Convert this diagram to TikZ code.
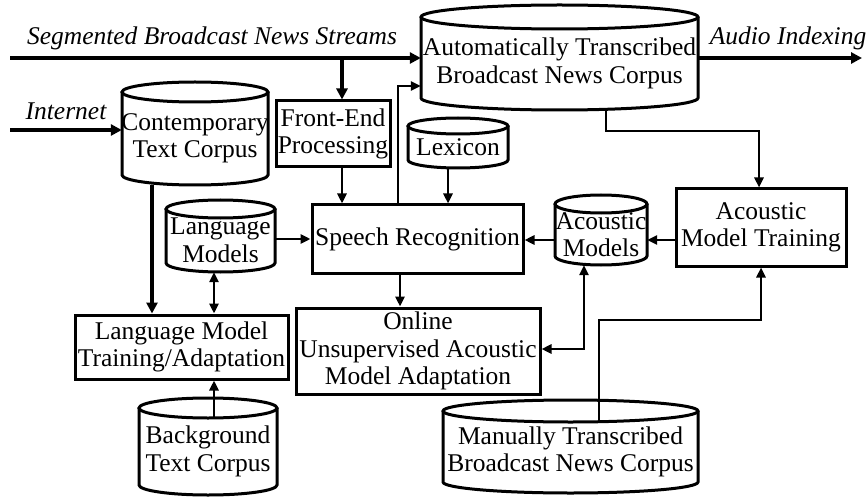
\documentclass[tikz,border=0pt]{standalone}
\usepackage{fontspec}
\setmainfont{Liberation Serif}
\usetikzlibrary{arrows.meta}
\newcommand\mfnt{\fontsize{25.5}{27.5}\selectfont}
\tikzset{
  txt/.style={font=\mfnt, align=center, inner sep=0pt},
  lbl/.style={font=\mfnt\itshape, inner sep=0pt, anchor=base},
  box/.style={draw, line width=3pt, font=\mfnt, align=center, inner sep=0pt},
  cylline/.style={line width=3pt},
  arr/.style={line width=2.5pt, -{Triangle[length=10pt,width=9pt]}},
  darr/.style={line width=2.5pt, {Triangle[length=10pt,width=9pt]}-{Triangle[length=10pt,width=9pt]}},
  tarr/.style={line width=4.5pt, -{Triangle[length=11pt,width=11pt]}},
}
% name, x1, y1(top), x2, y2(bottom), ry, text
\newcommand\cylnode[7]{%
  \pgfmathsetmacro\cylcx{(#2+#4)/2}%
  \pgfmathsetmacro\cylrx{(#4-#2)/2}%
  \pgfmathsetmacro\cylw{#4-#2}%
  \pgfmathsetmacro\cylh{#5-#3}%
  \pgfmathsetmacro\cylcy{(#3+#5)/2}%
  \pgfmathsetmacro\cylty{(#3+#5)/2+#6/2}%
  \node[shape=rectangle, inner sep=0pt, minimum width=\cylw pt, minimum height=\cylh pt] (#1) at (\cylcx,\cylcy) {};
  \node[txt] (#1-t) at (\cylcx,\cylty) {#7};
  \draw[cylline] (\cylcx,#3+#6) ellipse [x radius=\cylrx pt, y radius=#6 pt];
  \draw[cylline] (#2,#3+#6) -- (#2,#5-#6) arc[start angle=180, end angle=360, x radius=\cylrx pt, y radius=#6 pt] -- (#4,#3+#6);
}
\begin{document}
\begin{tikzpicture}[x=1pt,y=-1pt]
\useasboundingbox (0,0) rectangle (867,497);
% cylinders
\cylnode{auto}{421}{5}{698}{110}{12}{Automatically Transcribed\\Broadcast News Corpus}
\cylnode{ctc}{122}{82}{268}{185}{10}{Contemporary\\Text Corpus}
\cylnode{lex}{408}{118}{508}{168}{8}{Lexicon}
\cylnode{lm}{166}{200}{275}{272}{9}{Language\\Models}
\cylnode{am}{555}{195}{647}{265}{9}{Acoustic\\Models}
\cylnode{btc}{139}{398}{277}{495}{10}{Background\\Text Corpus}
\cylnode{mtc}{443}{400}{698}{493}{11}{Manually Transcribed\\Broadcast News Corpus}
% boxes
\node[box, minimum width=114pt, minimum height=66pt] (fe) at (333,134) {Front-End\\Processing};
\node[box, minimum width=211pt, minimum height=68pt] (sr) at (417.5,239) {Speech Recognition};
\node[box, minimum width=213pt, minimum height=64pt] (lmta) at (181.5,347) {Language Model\\Training/Adaptation};
\node[box, minimum width=244pt, minimum height=86pt] (ou) at (418,351) {Online\\Unsupervised Acoustic\\Model Adaptation};
\node[box, minimum width=170pt, minimum height=77pt] (amt) at (761,227.5) {Acoustic\\Model Training};
% labels
\node[lbl] (lseg) at (212,45) {Segmented Broadcast News Streams};
\node[lbl] (linet) at (66,120) {Internet};
\node[lbl] (laud) at (788,45) {Audio Indexing};
% coordinates
\coordinate (segs) at (10,58);
\coordinate (inets) at (10,130);
\coordinate (aend) at (862,58);
\coordinate (br) at (342,58);
\coordinate (xlex) at (448,0);
\coordinate (xsr) at (398,86);
\coordinate (ylm) at (0,239);
\coordinate (yam) at (0,240);
\coordinate (xon) at (400,0);
\coordinate (jam) at (584,349);
\coordinate (j1) at (606,131);
\coordinate (j2) at (759,131);
\coordinate (mstart) at (599,421);
\coordinate (j3) at (599,320);
\coordinate (j4) at (761,320);
\coordinate (bstart) at (214,418);
\coordinate (xc) at (152,0);
% connectors
\draw[tarr] (segs) -- (segs -| auto.west);
\draw[tarr] (br) -- (br |- fe.north);
\draw[tarr] (inets) -- (inets -| ctc.west);
\draw[tarr] (auto.east |- aend) -- (aend);
\draw[tarr] (xc |- ctc.south) -- (xc |- lmta.north);
\draw[arr] (br |- fe.south) -- (br |- sr.north);
\draw[arr] (xlex |- lex.south) -- (xlex |- sr.north);
\draw[arr] (xsr |- sr.north) -- (xsr) -- (xsr -| auto.west);
\draw[arr] (ylm -| lm.east) -- (ylm -| sr.west);
\draw[arr] (yam -| am.west) -- (yam -| sr.east);
\draw[arr] (yam -| amt.west) -- (yam -| am.east);
\draw[arr] (xon |- sr.south) -- (xon |- ou.north);
\draw[darr] (jam -| ou.east) -- (jam) -- (jam |- am.south);
\draw[arr] (j1 |- auto.south) -- (j1) -- (j2) -- (j2 |- amt.north);
\draw[arr] (mstart) -- (j3) -- (j4) -- (j4 |- amt.south);
\draw[arr] (bstart) -- (bstart |- lmta.south);
\draw[darr] (bstart |- lm.south) -- (bstart |- lmta.north);
\end{tikzpicture}
\end{document}
